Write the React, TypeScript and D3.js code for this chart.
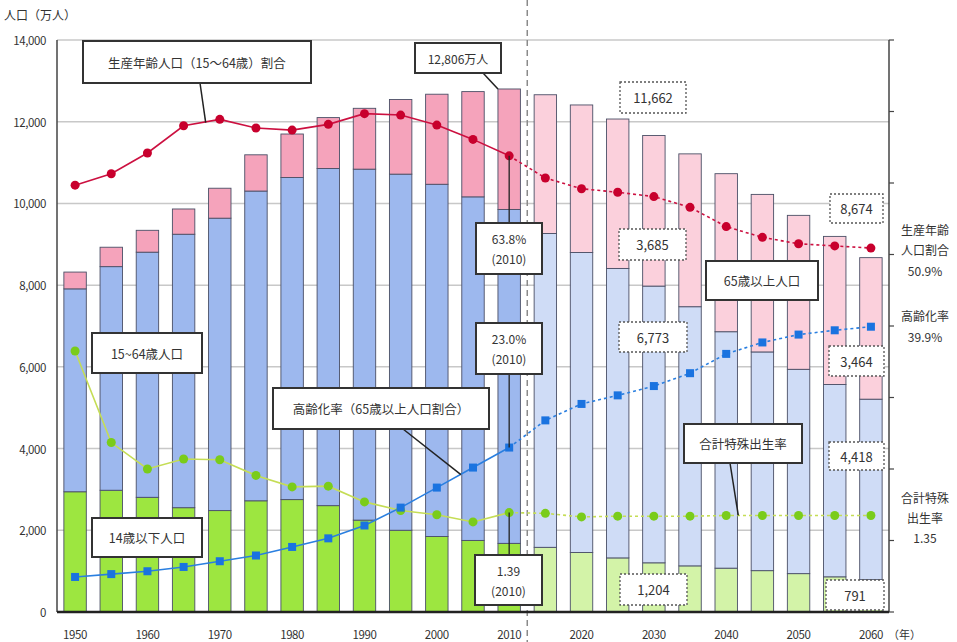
import React from "react";
import * as d3 from "d3";

const years = [1950,1955,1960,1965,1970,1975,1980,1985,1990,1995,2000,2005,2010,2015,2020,2025,2030,2035,2040,2045,2050,2055,2060];
const age0to14 = [2943,2980,2807,2553,2482,2722,2751,2603,2249,2001,1847,1752,1680,1583,1457,1324,1204,1129,1073,1012,939,861,791];
const age15to64 = [4966,5473,6000,6693,7157,7581,7883,8251,8590,8716,8622,8409,8173,7682,7341,7085,6773,6343,5787,5353,5001,4706,4418];
const age65plus = [411,475,535,618,733,887,1065,1247,1489,1826,2204,2576,2948,3395,3612,3657,3685,3741,3868,3856,3768,3626,3464];
const workingRatio = [59.7,61.3,64.2,68.0,68.9,67.7,67.4,68.2,69.7,69.5,68.1,66.1,63.8,60.7,59.2,58.7,58.1,56.6,53.9,52.4,51.5,51.2,50.9];
const agingRate = [4.9,5.3,5.7,6.3,7.1,7.9,9.1,10.3,12.1,14.6,17.4,20.2,23.0,26.8,29.1,30.3,31.6,33.4,36.1,37.7,38.8,39.4,39.9];
const fertility = [3.65,2.37,2.0,2.14,2.13,1.91,1.75,1.76,1.54,1.42,1.36,1.26,1.39,1.38,1.33,1.34,1.34,1.34,1.35,1.35,1.35,1.35,1.35];
const yTicks = [0,2000,4000,6000,8000,10000,12000,14000];
const xLabelYears = [1950,1960,1970,1980,1990,2000,2010,2020,2030,2040,2050,2060];
const rightTicks = [0,10,20,30,40,50,60,70,80];
const firstProjected = 2015;

const FONT = "'Noto Sans CJK JP', 'Noto Sans', sans-serif";

const L = 57, R = 889, T = 40, B = 612;

export default function App() {
  const x = d3.scaleBand<number>().domain(years).range([L, R]).paddingInner(0.38).paddingOuter(0.19);
  const y = d3.scaleLinear().domain([0, 14000]).range([B, T]);
  const yr = d3.scaleLinear().domain([0, 80]).range([B, T]);
  const yf = (v: number) => yr(v * 10);
  const cx = (yr0: number) => (x(yr0) as number) + x.bandwidth() / 2;
  const bw = x.bandwidth();
  const histIdx = years.map((d, i) => i).filter(i => years[i] <= 2010);
  const projIdx = years.map((d, i) => i).filter(i => years[i] >= 2010);

  const lineGen = (vals: number[], sc: (v: number) => number, idx: number[]) =>
    d3.line<number>().x(i => cx(years[i])).y(i => sc(vals[i]))(idx) || "";

  const dividerX = (cx(2010) + cx(2015)) / 2;

  const solidBox = (x0: number, y0: number, w: number, h: number, lines: string[], key: string, fs = 12.5) => (
    <g key={key}>
      <rect x={x0} y={y0} width={w} height={h} fill="#fff" stroke="#333" strokeWidth={2} />
      {lines.map((t, k) => (
        <text key={k} x={x0 + w / 2} y={y0 + h / 2 + (k - (lines.length - 1) / 2) * 20} textAnchor="middle" dominantBaseline="central" fontSize={lines.length > 1 ? 12 : fs} fill="#333" fontFamily={FONT}>{t}</text>
      ))}
    </g>
  );
  const dashBox = (x0: number, y0: number, w: number, h: number, t: string, key: string) => (
    <g key={key}>
      <rect x={x0} y={y0} width={w} height={h} fill="#fff" stroke="#555" strokeWidth={1.3} strokeDasharray="2,2" />
      <text x={x0 + w / 2} y={y0 + h / 2} textAnchor="middle" dominantBaseline="central" fontSize={13} fill="#333" fontFamily={FONT}>{t}</text>
    </g>
  );

  return (
    <svg width={957} height={642} style={{ position: "absolute", left: 0, top: 0, background: "#fff" }}>
      {yTicks.filter(t => t > 0).map(t => (
        <line key={t} x1={L} x2={R} y1={y(t)} y2={y(t)} stroke="#c8c8c8" strokeWidth={1.5} />
      ))}
      {years.map((yr0, i) => {
        const proj = yr0 >= firstProjected;
        const segs = [
          { v0: 0, v1: age0to14[i], c: proj ? "#d3f3a8" : "#9de640" },
          { v0: age0to14[i], v1: age0to14[i] + age15to64[i], c: proj ? "#cfdcf6" : "#9db8ee" },
          { v0: age0to14[i] + age15to64[i], v1: age0to14[i] + age15to64[i] + age65plus[i], c: proj ? "#fbd0dc" : "#f5a3bb" },
        ];
        return (
          <g key={yr0}>
            {segs.map((s, k) => (
              <rect key={k} x={x(yr0)} y={y(s.v1)} width={bw} height={y(s.v0) - y(s.v1)} fill={s.c} stroke="#4a4f66" strokeWidth={0.9} />
            ))}
          </g>
        );
      })}
      <line x1={dividerX} x2={dividerX} y1={0} y2={642} stroke="#8a8a8a" strokeWidth={1.5} strokeDasharray="6,4" />
      <line x1={L} x2={L} y1={T} y2={B} stroke="#444" strokeWidth={1.5} />
      <line x1={R} x2={R} y1={T} y2={B} stroke="#444" strokeWidth={1.5} />
      {rightTicks.map(t => (
        <line key={t} x1={R} x2={R + 5} y1={yr(t)} y2={yr(t)} stroke="#444" strokeWidth={1.2} />
      ))}
      <line x1={L} x2={R} y1={B} y2={B} stroke="#222" strokeWidth={2.5} />
      {yTicks.map(t => (
        <text key={t} x={46} y={y(t)} textAnchor="end" dominantBaseline="central" fontSize={11.5} fill="#333" fontFamily={FONT} letterSpacing={-0.4}>{d3.format(",")(t)}</text>
      ))}
      <text x={4} y={20} fontSize={12} fill="#333" fontFamily={FONT}>人口（万人）</text>
      {xLabelYears.map(t => (
        <text key={t} x={cx(t)} y={634} textAnchor="middle" dominantBaseline="central" fontSize={11.5} fill="#333" fontFamily={FONT} letterSpacing={-0.4}>{t}</text>
      ))}
      <text x={cx(2060) + 17} y={634} dominantBaseline="central" fontSize={11} fill="#333" fontFamily={FONT}>（年）</text>

      <path d={lineGen(fertility, yf, histIdx)} fill="none" stroke="#c5dd55" strokeWidth={1.6} />
      <path d={lineGen(fertility, yf, projIdx)} fill="none" stroke="#c5dd55" strokeWidth={1.6} strokeDasharray="3,3" />
      <path d={lineGen(workingRatio, yr, histIdx)} fill="none" stroke="#cc1040" strokeWidth={1.6} />
      <path d={lineGen(workingRatio, yr, projIdx)} fill="none" stroke="#cc1040" strokeWidth={1.6} strokeDasharray="3,3" />
      <path d={lineGen(agingRate, yr, histIdx)} fill="none" stroke="#2a7fe0" strokeWidth={1.6} />
      <path d={lineGen(agingRate, yr, projIdx)} fill="none" stroke="#2a7fe0" strokeWidth={1.6} strokeDasharray="3,3" />
      {years.map((yr0, i) => (
        <g key={"m" + yr0}>
          <circle cx={cx(yr0)} cy={yf(fertility[i])} r={4.5} fill="#7acc1a" />
          <circle cx={cx(yr0)} cy={yr(workingRatio[i])} r={4.5} fill="#c8002d" />
          <rect x={cx(yr0) - 4} y={yr(agingRate[i]) - 4} width={8} height={8} fill="#1a73e0" />
        </g>
      ))}

      <line x1={200} y1={83} x2={(cx(1965) + cx(1970)) / 2 + 4} y2={(yr(workingRatio[3]) + yr(workingRatio[4])) / 2} stroke="#222" strokeWidth={1.5} />
      <line x1={483} y1={73} x2={x(2010) as number} y2={y(age0to14[12] + age15to64[12] + age65plus[12])} stroke="#222" strokeWidth={1.5} />
      <line x1={cx(2010)} y1={223} x2={cx(2010)} y2={yr(workingRatio[12])} stroke="#222" strokeWidth={1.3} />
      <line x1={cx(2010)} y1={374} x2={cx(2010)} y2={yr(agingRate[12])} stroke="#222" strokeWidth={1.3} />
      <line x1={cx(2010)} y1={555} x2={cx(2010)} y2={yf(fertility[12])} stroke="#222" strokeWidth={1.3} />
      <line x1={403} y1={429} x2={(cx(2000) + cx(2005)) / 2 + 6} y2={(yr(agingRate[10]) + yr(agingRate[11])) / 2 - 3} stroke="#222" strokeWidth={1.5} />
      <line x1={730} y1={463} x2={(cx(2040) + cx(2045)) / 2 - 6} y2={yf(fertility[18])} stroke="#222" strokeWidth={1.5} />

      {solidBox(83, 41, 228, 42, ["生産年齢人口（15～64歳）割合"], "b1")}
      {solidBox(415, 43, 86, 30, ["12,806万人"], "b2", 12)}
      {solidBox(476, 223, 66, 51, ["63.8%", "(2010)"], "b3")}
      {solidBox(476, 323, 66, 51, ["23.0%", "(2010)"], "b4")}
      {solidBox(475, 555, 67, 50, ["1.39", "(2010)"], "b5")}
      {solidBox(706, 261, 112, 39, ["65歳以上人口"], "b6")}
      {solidBox(92, 333, 110, 40, ["15~64歳人口"], "b7")}
      {solidBox(92, 518, 110, 39, ["14歳以下人口"], "b8")}
      {solidBox(273, 388, 216, 41, ["高齢化率（65歳以上人口割合）"], "b9")}
      {solidBox(684, 424, 118, 39, ["合計特殊出生率"], "b10")}
      {dashBox(620, 82, 66, 31, "11,662", "d1")}
      {dashBox(619, 229, 67, 31, "3,685", "d2")}
      {dashBox(619, 322, 68, 30, "6,773", "d3")}
      {dashBox(620, 574, 67, 31, "1,204", "d4")}
      {dashBox(830, 194, 53, 29, "8,674", "d5")}
      {dashBox(829, 346, 55, 30, "3,464", "d6")}
      {dashBox(829, 442, 55, 28, "4,418", "d7")}
      {dashBox(826, 580, 58, 30, "791", "d8")}

      {[
        ["生産年齢", 229], ["人口割合", 249], ["50.9%", 270],
        ["高齢化率", 315], ["39.9%", 336],
        ["合計特殊", 497], ["出生率", 517], ["1.35", 537],
      ].map(([t, yy]) => (
        <text key={t as string} x={925} y={yy as number} textAnchor="middle" dominantBaseline="central" fontSize={12} fill="#333" fontFamily={FONT}>{t}</text>
      ))}
    </svg>
  );
}
